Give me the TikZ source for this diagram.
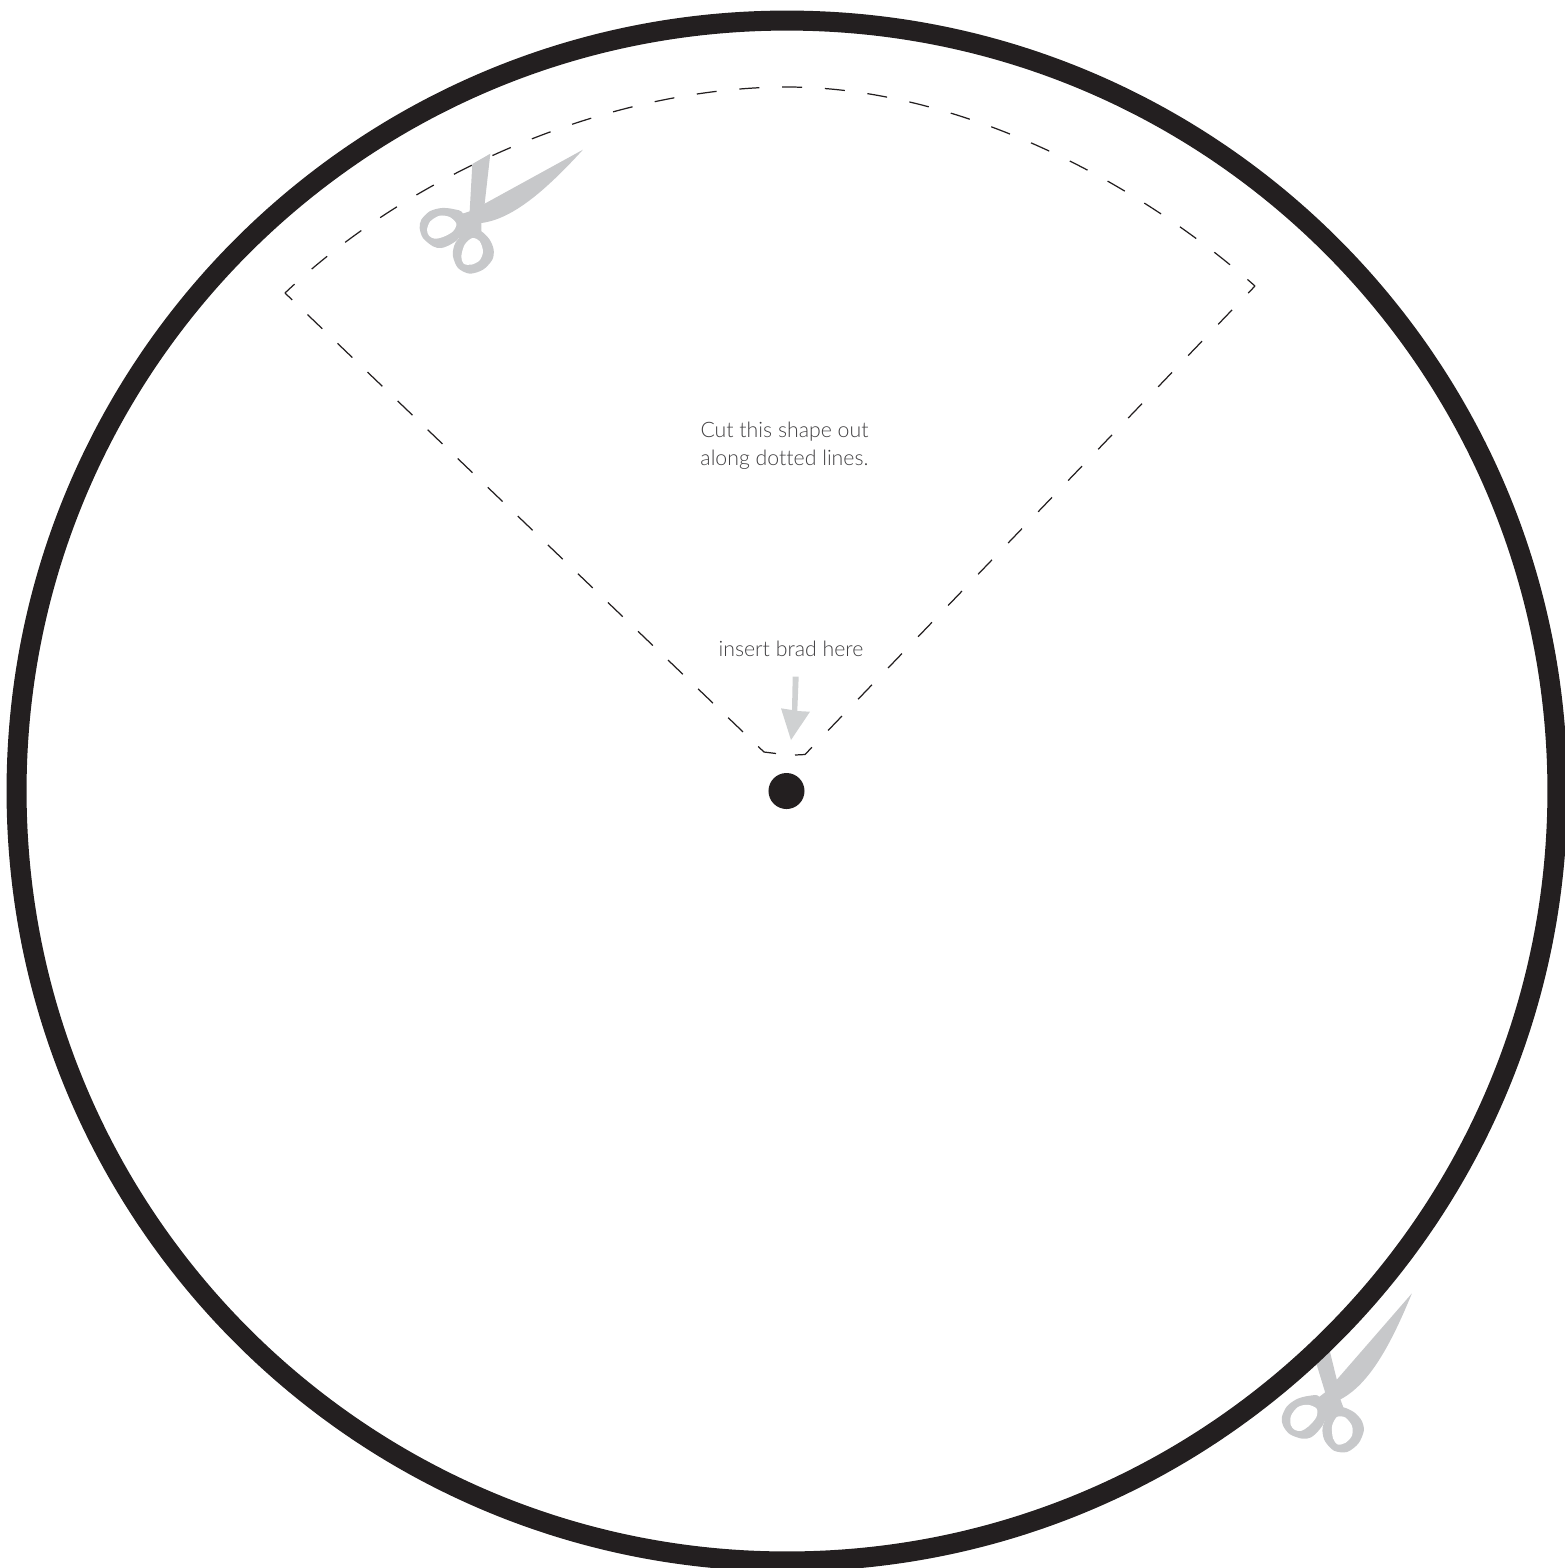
\documentclass[tikz,border=0pt]{standalone}
\usepackage{fontspec}
\setmainfont[Ligatures=NoCommon]{Lato Light}
\usetikzlibrary{positioning}
\definecolor{ring}{RGB}{35,31,32}
\definecolor{shear}{RGB}{199,200,202}
\definecolor{pointer}{RGB}{207,209,210}
\definecolor{note}{RGB}{65,64,66}

\begin{document}
\begin{tikzpicture}[x=0.01cm,y=-0.01cm,
  note/.style={font=\fontsize{6.05}{8}\selectfont,text=note,align=center,inner sep=0},
  cutline/.style={draw=ring,line width=0.35pt},
  scissors/.pic={
   \begin{scope}[scale=0.3333,shift={(-220,-370)}]
    \fill[shear] (550,60) -- (255,222) -- (272,72) -- (218,103) -- (210,245) -- (188,252)
      -- (178,325) -- (245,310) -- (245,280)
      .. controls (340,268) and (440,180) .. (550,60) -- cycle;
    \fill[shear] plot[smooth cycle] coordinates {(190,252) (160,238) (125,235) (90,245) (65,270) (60,295)
      (70,325) (100,350) (125,355) (155,343) (180,320)};
    \fill[shear] plot[smooth cycle] coordinates {(178,325) (163,350) (160,380) (175,415) (210,432)
      (250,420) (278,390) (282,360) (270,330) (245,305) (215,300)};
    \fill[white] plot[smooth cycle] coordinates {(82,300) (92,275) (120,258) (150,262) (170,282)
      (160,305) (130,322) (105,327) (88,318)};
    \fill[white] plot[smooth cycle] coordinates {(185,380) (195,345) (218,325) (240,335) (250,365)
      (240,392) (215,405) (192,402)};
   \end{scope}
  }]
 \useasboundingbox (0,0) rectangle (1565,1568);
 % scissors
 \pic at (473,253) {scissors};
 \pic[rotate=20.2,scale=1.02] at (1343,1431) {scissors};
 % outer ring
 \coordinate (mid) at (787,791);
 \draw[ring,line width=20*0.2845pt] (mid) circle [radius=7.70cm];
 % cut outline
 \draw[cutline,dash pattern=on 20*0.2845pt off 23.3*0.2845pt] (795,755) -- (805,754.5) -- (1255,286);
 \draw[cutline,dash pattern=on 20*0.2845pt off 22.8*0.2845pt,dash phase=10*0.2845pt] (1255,286)
   .. controls (1125,171) and (947,87) .. (787,87)
   .. controls (620,87) and (420,165) .. (285,293);
 \draw[cutline,dash pattern=on 20.5*0.2845pt off 21.1*0.2845pt,dash phase=10.5*0.2845pt] (285,293)
   -- (764,752) -- (776,753.5);
 % brad hole and pointer
 \node[circle,fill=ring,minimum size=0.36cm,inner sep=0] (brad) at (786.5,791) {};
 \fill[pointer] (792.7,676.7) -- (798.7,676.7) -- (797.3,711) -- (810,711.7) -- (791,740)
   -- (781,708.3) -- (792,710) -- cycle;
 % labels
 \node[note] (cuttext) at (784.5,446) {Cut this shape out\\along dotted lines.};
 \node[note] (bradtext) at (791,649) {insert brad here};
\end{tikzpicture}
\end{document}
